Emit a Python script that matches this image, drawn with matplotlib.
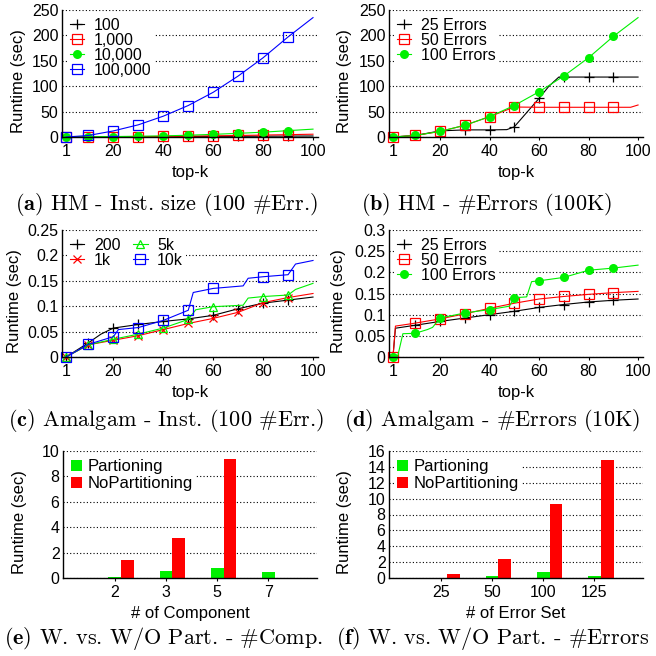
import numpy as np
import matplotlib.pyplot as plt
from matplotlib.ticker import FormatStrFormatter

plt.rcParams['font.family'] = 'Liberation Sans'
plt.rcParams['font.size'] = 12
plt.rcParams['xtick.labelsize'] = 11.5
plt.rcParams['ytick.labelsize'] = 11.5
plt.rcParams['mathtext.fontset'] = 'cm'

# ---- data -------------------------------------------------------------
mark_k = [1, 10, 20, 30, 40, 50, 60, 70, 80, 90]
k_hm = [1, 10, 20, 30, 40, 50, 60, 70, 80, 90, 100]

# (a) HM - instance size
a_100 = [0, 0.3, 0.5, 0.7, 0.9, 1.0, 1.2, 1.4, 1.6, 1.8, 2.0]
a_1k = [0, 0.3, 0.5, 0.8, 1.2, 1.6, 2.2, 3.0, 3.8, 4.6, 5.5]
a_10k = [0, 0.5, 0.9, 1.5, 2.2, 3.5, 5.2, 7.2, 9.5, 12.5, 15.5]
a_100k = [0, 3, 12, 24, 41, 62, 88, 120, 156, 197, 235]

# (b) HM - number of errors
b_25_k = [1, 10, 20, 30, 40, 47, 50, 60, 64, 68, 70, 80, 90, 100]
b_25 = [0, 3, 12, 14, 14, 14.5, 20, 76, 100, 118, 118, 118, 118, 118]
b_50_k = [1, 10, 20, 30, 40, 50, 60, 70, 80, 90, 97, 100]
b_50 = [0, 3, 11, 23, 40, 59, 58.5, 58.5, 58.5, 58.5, 58.5, 63]
b_100 = [0, 3, 11, 23, 40, 62, 89, 120, 156, 198, 235]

# (c) Amalgam - instance size
c_200_k = [1, 10, 15, 20, 30, 40, 50, 60, 70, 80, 90, 100]
c_200 = [0, 0.028, 0.045, 0.057, 0.064, 0.070, 0.075, 0.082, 0.095, 0.106, 0.112, 0.118]
c_1k = [0, 0.024, 0.033, 0.042, 0.054, 0.066, 0.076, 0.088, 0.107, 0.117, 0.125]
c_5k_k = [1, 10, 20, 30, 40, 50, 53, 60, 72, 74, 80, 90, 93, 100]
c_5k = [0, 0.024, 0.035, 0.045, 0.057, 0.074, 0.093, 0.099, 0.102, 0.116, 0.119, 0.122, 0.133, 0.145]
c_10k_k = [1, 10, 20, 22, 30, 40, 50, 52, 60, 72, 74, 80, 90, 93, 100]
c_10k = [0, 0.025, 0.040, 0.054, 0.058, 0.072, 0.092, 0.127, 0.135, 0.140, 0.155, 0.158, 0.162, 0.183, 0.190]

# (d) Amalgam - number of errors
d_k = [1, 2, 10, 20, 30, 40, 50, 60, 70, 80, 90, 100]
d_25 = [0, 0.068, 0.075, 0.084, 0.092, 0.100, 0.108, 0.117, 0.124, 0.130, 0.134, 0.137]
d_50 = [0, 0.073, 0.080, 0.090, 0.102, 0.115, 0.127, 0.137, 0.143, 0.148, 0.152, 0.155]
d_100_k = [1, 3, 5, 10, 15, 17, 20, 30, 40, 48, 50, 55, 57, 60, 70, 80, 90, 100]
d_100 = [0, 0.004, 0.055, 0.056, 0.065, 0.070, 0.092, 0.104, 0.112, 0.120, 0.140, 0.142,
         0.178, 0.180, 0.188, 0.205, 0.210, 0.217]

# (e) / (f) partitioning bars
comp = ['2', '3', '5', '7']
e_part = [0.05, 0.53, 0.77, 0.45]
e_nopart = [1.4, 3.13, 9.35, 0]
errsets = ['25', '50', '100', '125']
f_part = [0.05, 0.25, 0.75, 0.25]
f_nopart = [0.48, 2.4, 9.3, 14.85]

GREEN = '#00f000'
RED = '#ff0000'
BLUE = '#0000ff'

W = H = 656
fig = plt.figure(figsize=(6.56, 6.56), dpi=100)


def px_axes(left, top, right, bottom):
    return fig.add_axes([left / W, 1 - bottom / H, (right - left) / W, (bottom - top) / H])


def style(ax, ymax, ystep, ylab_x):
    ax.set_ylim(0, ymax)
    ax.set_yticks(np.arange(0, ymax + ystep / 2, ystep))
    ax.yaxis.set_major_formatter(FormatStrFormatter('%g'))
    for s in ['top', 'right']:
        ax.spines[s].set_visible(False)
    for s in ['left', 'bottom']:
        ax.spines[s].set_linewidth(1.0)
    ax.tick_params(axis='x', direction='out', length=2.5, width=0.8, pad=2.5)
    ax.tick_params(axis='y', length=0, pad=2.5)
    ax.yaxis.grid(True, linestyle=(0, (1, 2)), color='black', lw=0.8)
    ax.set_axisbelow(True)
    ax.set_ylabel('Runtime (sec)')
    ax.yaxis.set_label_coords(ylab_x, 0.44)


def line_axes(ax, ymax, ystep, ylab_x):
    style(ax, ymax, ystep, ylab_x)
    ax.set_xlim(-0.6, 102)
    ax.set_xticks([1, 20, 40, 60, 80, 100])
    ax.set_xlabel('top-k')
    ax.xaxis.set_label_coords(0.5, -0.22)


def series(ax, ks, vals, color, marker, label, **kw):
    idx = [i for i, k in enumerate(ks) if k in mark_k]
    ax.plot(ks, vals, color=color, lw=0.8, marker=marker, markevery=idx, label=label,
            clip_on=False, **kw)


PLUS = dict(ms=7, mew=0.9)
SQ = dict(ms=6.5, mew=0.9, mfc='none')
DOT = dict(ms=6.5, mew=0)
TRI = dict(ms=6, mew=0.9, mfc='none')
CROSS = dict(ms=6, mew=0.9)


def legend(ax, **kw):
    opts = dict(loc='upper left', frameon=True, fancybox=False, edgecolor='none',
                facecolor='white', framealpha=1, borderpad=0.2, labelspacing=0.0,
                handlelength=0.9, handletextpad=0.6, borderaxespad=0.3, fontsize=11.5)
    opts.update(kw)
    leg = ax.legend(**opts)
    leg.set_zorder(10)


def caption(cx, cy, text):
    fig.text(cx / W, 1 - cy / H, text, family='cmr10', size=16, ha='center', va='center')


# (a)
ax = px_axes(62, 10, 318, 137)
line_axes(ax, 250, 50, -0.14)
series(ax, k_hm, a_100, 'black', '+', '100', **PLUS)
series(ax, k_hm, a_1k, RED, 's', '1,000', **SQ)
series(ax, k_hm, a_10k, GREEN, 'o', '10,000', **DOT)
series(ax, k_hm, a_100k, BLUE, 's', '100,000', **SQ)
legend(ax)
caption(167, 205, r'$\mathbf{(a)}$ HM - Inst. size (100 #Err.)')

# (b)
ax = px_axes(389, 10, 643, 137)
line_axes(ax, 250, 50, -0.146)
series(ax, b_25_k, b_25, 'black', '+', '25 Errors', **PLUS)
series(ax, b_50_k, b_50, RED, 's', '50 Errors', **SQ)
series(ax, k_hm, b_100, GREEN, 'o', '100 Errors', **DOT)
legend(ax)
caption(486, 205, r'$\mathbf{(b)}$ HM - #Errors (100K)')

# (c)
ax = px_axes(62, 230, 318, 357)
line_axes(ax, 0.25, 0.05, -0.156)
series(ax, c_200_k, c_200, 'black', '+', '200', **PLUS)
series(ax, k_hm, c_1k, RED, 'x', '1k', **CROSS)
series(ax, c_5k_k, c_5k, GREEN, '^', '5k', **TRI)
series(ax, c_10k_k, c_10k, BLUE, 's', '10k', **SQ)
legend(ax, ncol=2, columnspacing=0.8)
caption(166, 420, r'$\mathbf{(c)}$ Amalgam - Inst. (100 #Err.)')

# (d)
ax = px_axes(389, 230, 643, 357)
line_axes(ax, 0.3, 0.05, -0.17)
series(ax, d_k, d_25, 'black', '+', '25 Errors', **PLUS)
series(ax, d_k, d_50, RED, 's', '50 Errors', **SQ)
series(ax, d_100_k, d_100, GREEN, 'o', '100 Errors', **DOT)
legend(ax)
caption(492, 420, r'$\mathbf{(d)}$ Amalgam - #Errors (10K)')


def bar_axes(ax, cats, part, nopart, ymax, xlabel, ylab_x):
    style(ax, ymax, 2, ylab_x)
    x = np.arange(len(cats))
    ax.bar(x, part, 0.25, color=GREEN, label='Partioning')
    ax.bar(x + 0.25, nopart, 0.25, color=RED, label='NoPartitioning')
    ax.set_xlim(-1.01, 3.95)
    ax.set_xticks(x)
    ax.set_xticklabels(cats)
    ax.set_xlabel(xlabel)
    ax.xaxis.set_label_coords(0.5, -0.22)
    legend(ax, handlelength=0.65, handleheight=0.65, handletextpad=0.3,
           labelspacing=0.1, borderaxespad=0.3, fontsize=12)


# (e)
ax = px_axes(63, 451, 317, 578)
bar_axes(ax, comp, e_part, e_nopart, 10, '# of Component', -0.142)
caption(163, 638, r'$\mathbf{(e)}$ W. vs. W/O Part. - #Comp.')

# (f)
ax = px_axes(389, 451, 643, 578)
bar_axes(ax, errsets, f_part, f_nopart, 16, '# of Error Set', -0.146)
caption(493, 638, r'$\mathbf{(f)}$ W. vs. W/O Part. - #Errors')

fig.savefig('out.png', dpi=100)
